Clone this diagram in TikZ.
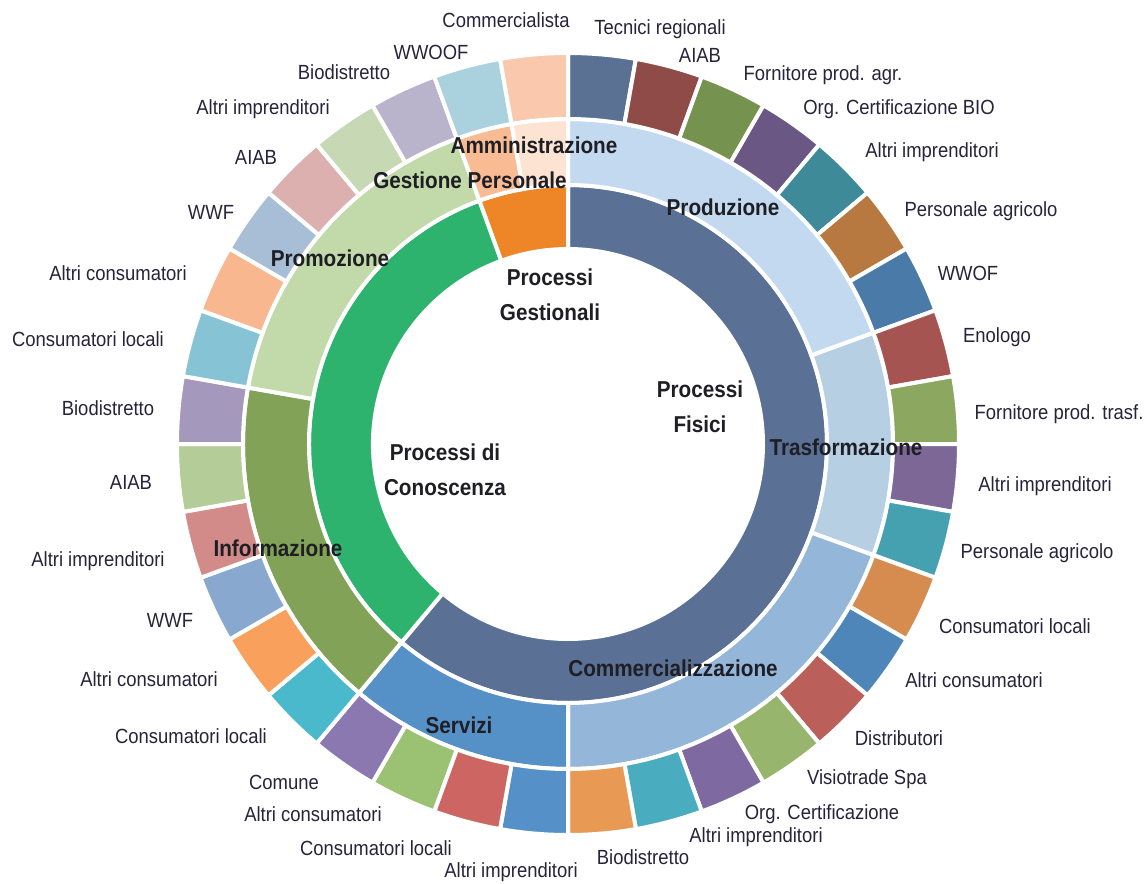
\documentclass[tikz,border=0pt]{standalone}
\usepackage{fontspec}
\setmainfont{Liberation Sans}[FakeStretch=0.9]
\definecolor{txt}{HTML}{26233A}
\definecolor{btxt}{HTML}{1E1E24}
% inner ring
\definecolor{pfis}{HTML}{5A7195}
\definecolor{pcon}{HTML}{2EB36F}
\definecolor{pges}{HTML}{EE8527}
% middle ring
\definecolor{mprod}{HTML}{C3D9EF}
\definecolor{mtras}{HTML}{B7CFE3}
\definecolor{mcomm}{HTML}{94B6D9}
\definecolor{mserv}{HTML}{5590C6}
\definecolor{minfo}{HTML}{82A257}
\definecolor{mprom}{HTML}{C2DAAA}
\definecolor{mgest}{HTML}{F9BB93}
\definecolor{mamm}{HTML}{FCE3D2}
% outer ring
\definecolor{oa}{HTML}{5B7194}
\definecolor{ob}{HTML}{8E4B48}
\definecolor{oc}{HTML}{76924F}
\definecolor{od}{HTML}{6A5783}
\definecolor{oe}{HTML}{3E8A98}
\definecolor{of}{HTML}{B87940}
\definecolor{og}{HTML}{4A7BA8}
\definecolor{oh}{HTML}{A65451}
\definecolor{oi}{HTML}{8BA760}
\definecolor{oj}{HTML}{7C6796}
\definecolor{ok}{HTML}{45A0AF}
\definecolor{ol}{HTML}{D68C4F}
\definecolor{om}{HTML}{4F86BA}
\definecolor{on}{HTML}{BA5F5A}
\definecolor{oo}{HTML}{97B56C}
\definecolor{op}{HTML}{7E6AA0}
\definecolor{oq}{HTML}{49ADBF}
\definecolor{or}{HTML}{E89A54}
\definecolor{os}{HTML}{5690C8}
\definecolor{ot}{HTML}{CD6662}
\definecolor{ou}{HTML}{9BC272}
\definecolor{ov}{HTML}{8B78B0}
\definecolor{ow}{HTML}{4AB9CC}
\definecolor{ox}{HTML}{F8A05C}
\definecolor{oy}{HTML}{88A8CF}
\definecolor{oz}{HTML}{D28B89}
\definecolor{oA}{HTML}{B3CC98}
\definecolor{oB}{HTML}{A598BD}
\definecolor{oC}{HTML}{86C3D4}
\definecolor{oD}{HTML}{F8B78F}
\definecolor{oE}{HTML}{A8BDD6}
\definecolor{oF}{HTML}{DCB0AF}
\definecolor{oG}{HTML}{C7D9B4}
\definecolor{oH}{HTML}{BAB3CC}
\definecolor{oI}{HTML}{A9D2DE}
\definecolor{oJ}{HTML}{FAC8AC}
\newcommand\sect[5]{\fill[#5,draw=white,line width=4pt]
  ({90-(#3)}:#2pt) arc[start angle={90-(#3)},end angle={90-(#4)},radius=#2pt]
  -- ({90-(#4)}:#1pt) arc[start angle={90-(#4)},end angle={90-(#3)},radius=#1pt] -- cycle;}
\newcommand\lab[4]{\node[lab] (#1) at ({#2-568},{444-#3-7.3}) {#4};}
\newcommand\blab[4]{\node[blab] (#1) at ({#2-568},{444-#3-8.2}) {#4};}
\begin{document}
\begin{tikzpicture}[x=1pt,y=1pt,
  lab/.style={inner sep=0pt,anchor=base,text=txt,font=\fontsize{20.5pt}{22pt}\selectfont},
  blab/.style={inner sep=0pt,anchor=base,text=btxt,font=\fontsize{23pt}{35pt}\selectfont\bfseries},
  blab2/.style={inner sep=0pt,anchor=center,align=center,text=btxt,font=\fontsize{23pt}{35pt}\selectfont\bfseries}]
\useasboundingbox (-568,-439) rectangle (579,444);
% inner ring
\sect{195}{259}{0}{220}{pfis}
\sect{195}{259}{220}{340}{pcon}
\sect{195}{259}{340}{360}{pges}
% middle ring
\sect{259}{325}{0}{70}{mprod}
\sect{259}{325}{70}{110}{mtras}
\sect{259}{325}{110}{180}{mcomm}
\sect{259}{325}{180}{220}{mserv}
\sect{259}{325}{220}{280}{minfo}
\sect{259}{325}{280}{340}{mprom}
\sect{259}{325}{340}{350}{mgest}
\sect{259}{325}{350}{360}{mamm}
% outer ring
\foreach \c [count=\i from 0] in {oa,ob,oc,od,oe,of,og,oh,oi,oj,ok,ol,om,on,oo,op,oq,or,os,ot,ou,ov,ow,ox,oy,oz,oA,oB,oC,oD,oE,oF,oG,oH,oI,oJ}
  {\sect{325}{391}{\i*10}{\i*10+10}{\c}}
% outer labels
\lab{l1}{506}{20}{Commercialista}
\lab{l2}{660}{27}{Tecnici regionali}
\lab{l3}{700}{55}{AIAB}
\lab{l4}{823}{73}{Fornitore prod. agr.}
\lab{l5}{899}{107}{Org. Certificazione BIO}
\lab{l6}{932}{150}{Altri imprenditori}
\lab{l7}{981}{209}{Personale agricolo}
\lab{l8}{968}{273}{WWOF}
\lab{l9}{997}{335}{Enologo}
\lab{l10}{1059}{412}{Fornitore prod. trasf.}
\lab{l11}{1045}{484}{Altri imprenditori}
\lab{l12}{1037}{551}{Personale agricolo}
\lab{l13}{1015}{626}{Consumatori locali}
\lab{l14}{974}{680}{Altri consumatori}
\lab{l15}{899}{738}{Distributori}
\lab{l16}{867}{777}{Visiotrade Spa}
\lab{l17}{822}{812}{Org. Certificazione}
\lab{l18}{756}{835}{Altri imprenditori}
\lab{l19}{643}{857}{Biodistretto}
\lab{l20}{511}{870}{Altri imprenditori}
\lab{l21}{376}{848}{Consumatori locali}
\lab{l22}{313}{814}{Altri consumatori}
\lab{l23}{284}{782}{Comune}
\lab{l24}{191}{736}{Consumatori locali}
\lab{l25}{149}{679}{Altri consumatori}
\lab{l26}{170}{620}{WWF}
\lab{l27}{98}{559}{Altri imprenditori}
\lab{l28}{131}{482}{AIAB}
\lab{l29}{108}{408}{Biodistretto}
\lab{l30}{88}{339}{Consumatori locali}
\lab{l31}{118}{273}{Altri consumatori}
\lab{l32}{211}{212}{WWF}
\lab{l33}{256}{157}{AIAB}
\lab{l34}{263}{107}{Altri imprenditori}
\lab{l35}{344}{72}{Biodistretto}
\lab{l36}{431}{52}{WWOOF}
% ring labels
\blab{b1}{534}{145}{Amministrazione}
\blab{b2}{470}{180}{Gestione Personale}
\blab{b3}{723}{207}{Produzione}
\blab{b4}{330}{258}{Promozione}
\blab{b5}{846}{447}{Trasformazione}
\blab{b6}{278}{548}{Informazione}
\blab{b7}{673}{668}{Commercializzazione}
\blab{b8}{459}{725}{Servizi}
\node[blab2] (c1) at ({550-568},{444-295}) {Processi\\Gestionali};
\node[blab2] (c2) at ({445-568},{444-470}) {Processi di\\Conoscenza};
\node[blab2] (c3) at ({700-568},{444-407}) {Processi\\Fisici};
\end{tikzpicture}
\end{document}
